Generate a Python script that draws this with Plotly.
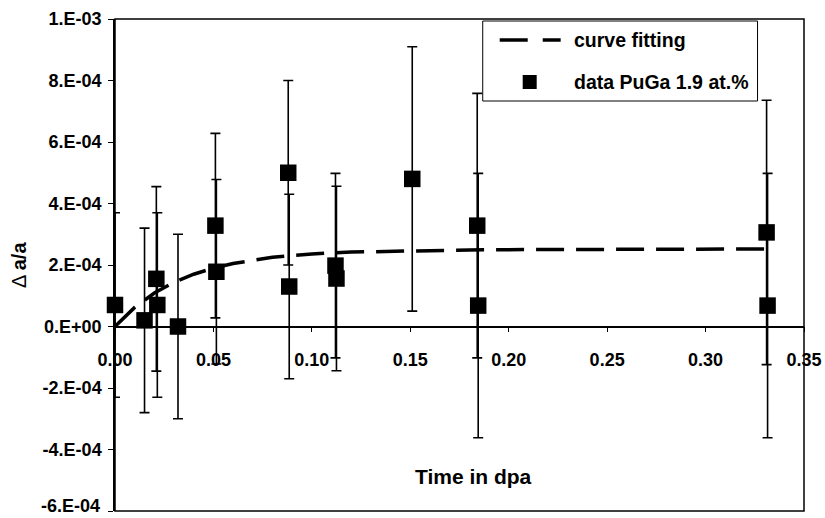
import plotly.graph_objects as go

# ---- data ----
time_dpa = [0.0, 0.015, 0.021, 0.0215, 0.032, 0.051, 0.0515, 0.088, 0.0885,
            0.112, 0.1125, 0.151, 0.184, 0.1845, 0.331, 0.3315]
delta_a = [7.0e-5, 2.0e-5, 1.55e-4, 7.0e-5, 0.0, 3.28e-4, 1.78e-4, 5.0e-4, 1.3e-4,
           1.98e-4, 1.56e-4, 4.8e-4, 3.28e-4, 6.8e-5, 3.06e-4, 6.8e-5]
delta_err = [3.0e-4, 3.0e-4, 3.0e-4, 3.0e-4, 3.0e-4, 3.0e-4, 3.0e-4, 3.0e-4, 3.0e-4,
             3.0e-4, 3.0e-4, 4.3e-4, 4.3e-4, 4.3e-4, 4.3e-4, 4.3e-4]

fit_x = [0.0, 0.01, 0.02, 0.03, 0.04, 0.05, 0.06, 0.07, 0.08, 0.09, 0.10,
         0.12, 0.14, 0.16, 0.18, 0.20, 0.25, 0.30, 0.331]
fit_y = [0.0, 6.2e-5, 1.09e-4, 1.44e-4, 1.70e-4, 1.90e-4, 2.05e-4, 2.16e-4, 2.25e-4,
         2.31e-4, 2.36e-4, 2.42e-4, 2.45e-4, 2.47e-4, 2.49e-4, 2.50e-4, 2.51e-4,
         2.52e-4, 2.52e-4]

x_ticks = [0.0, 0.05, 0.10, 0.15, 0.20, 0.25, 0.30, 0.35]
x_tick_text = ["0.00", "0.05", "0.10", "0.15", "0.20", "0.25", "0.30", "0.35"]
y_ticks = [-6e-4, -4e-4, -2e-4, 0.0, 2e-4, 4e-4, 6e-4, 8e-4, 1e-3]
y_tick_text = ["-6.E-04", "-4.E-04", "-2.E-04", "0.E+00", "2.E-04", "4.E-04",
               "6.E-04", "8.E-04", "1.E-03"]

legend_names = ["curve fitting", "data PuGa 1.9 at.%"]
x_title = "Time in dpa"
y_title = "\u0394 <b>a/a</b>"

FONT = "Liberation Sans, Arial, Helvetica, sans-serif"

# ---- figure geometry (pixels) ----
W, H = 825, 518
L, R, T, B = 115, 20.5, 19, 7
pw, ph = W - L - R, H - T - B


def px2paper_x(px):
    return (px - L) / pw


def px2paper_y(py):
    return (H - B - py) / ph


fig = go.Figure()

fig.add_trace(go.Scatter(
    x=fit_x, y=fit_y, mode="lines", name=legend_names[0],
    line=dict(color="black", width=3.5, dash="28px,12px"),
    showlegend=False, hoverinfo="skip", cliponaxis=False))

fig.add_trace(go.Scatter(
    x=time_dpa, y=delta_a, mode="markers", name=legend_names[1],
    marker=dict(symbol="square", size=16.5, color="black"),
    error_y=dict(type="data", array=delta_err, visible=True,
                 color="black", thickness=1.6, width=5),
    showlegend=False, cliponaxis=False))

y0_paper = (0 - (-6e-4)) / (1e-3 - (-6e-4))

# the lowest label sits on the figure edge: draw it as a text placed just inside
y_label_text = [t if v != y_ticks[0] else "" for v, t in zip(y_ticks, y_tick_text)]

fig.update_layout(
    width=W, height=H,
    margin=dict(l=L, r=R, t=T, b=B, pad=0, autoexpand=False),
    paper_bgcolor="white", plot_bgcolor="white",
    font=dict(family=FONT, color="black"),
    showlegend=False,
    xaxis=dict(range=[0, 0.35], tickvals=x_ticks, ticktext=x_tick_text,
               anchor="free", position=y0_paper, automargin=False,
               showline=True, linecolor="black", linewidth=1.5,
               ticks="outside", ticklen=5, tickwidth=1.2, tickcolor="black",
               showgrid=False, zeroline=False, ticklabeloverflow="allow",
               tickfont=dict(family=FONT, size=18, weight="bold", color="black"),
               ticklabelstandoff=12),
    yaxis=dict(range=[-6e-4, 1e-3], tickvals=y_ticks, ticktext=y_label_text,
               automargin=False,
               showline=True, linecolor="black", linewidth=1.5,
               ticks="outside", ticklen=5, tickwidth=1.2, tickcolor="black",
               showgrid=False, zeroline=False, ticklabeloverflow="allow",
               tickfont=dict(family=FONT, size=18, weight="bold", color="black"),
               ticklabelstandoff=3),
)

fig.add_annotation(xref="paper", yref="paper", x=px2paper_x(101), y=px2paper_y(517),
                   text="<b>" + y_tick_text[0] + "</b>", showarrow=False,
                   xanchor="right", yanchor="bottom", borderpad=0,
                   font=dict(family=FONT, size=18, color="black"))

# plot frame
fig.add_shape(type="rect", xref="paper", yref="paper", x0=0, x1=1, y0=0, y1=1,
              line=dict(color="black", width=1.5), layer="above")

# custom legend
fig.add_shape(type="rect", xref="paper", yref="paper",
              x0=px2paper_x(483), x1=px2paper_x(758),
              y0=px2paper_y(101), y1=px2paper_y(21),
              line=dict(color="black", width=1), fillcolor="white", layer="above")
fig.add_shape(type="line", xref="paper", yref="paper",
              x0=px2paper_x(500), x1=px2paper_x(561),
              y0=px2paper_y(40), y1=px2paper_y(40),
              line=dict(color="black", width=3.5, dash="28px,15px"), layer="above")
fig.add_shape(type="rect", xref="paper", yref="paper",
              xsizemode="pixel", ysizemode="pixel",
              xanchor=px2paper_x(530), yanchor=px2paper_y(82),
              x0=-7, x1=7, y0=-7, y1=7,
              line=dict(width=0), fillcolor="black", layer="above")
fig.add_annotation(xref="paper", yref="paper", x=px2paper_x(572), y=px2paper_y(40),
                   text="<b>" + legend_names[0] + "</b>", showarrow=False,
                   xanchor="left", yanchor="middle",
                   font=dict(family=FONT, size=19.5, color="black"))
fig.add_annotation(xref="paper", yref="paper", x=px2paper_x(572), y=px2paper_y(82),
                   text="<b>" + legend_names[1] + "</b>", showarrow=False,
                   xanchor="left", yanchor="middle",
                   font=dict(family=FONT, size=19.5, color="black"))

# axis titles
fig.add_annotation(xref="paper", yref="paper", x=px2paper_x(474), y=px2paper_y(476),
                   text="<b>" + x_title + "</b>", showarrow=False,
                   xanchor="center", yanchor="middle",
                   font=dict(family=FONT, size=21, color="black"))
fig.add_annotation(xref="paper", yref="paper", x=px2paper_x(19), y=px2paper_y(265),
                   text=y_title, showarrow=False, textangle=-90,
                   xanchor="center", yanchor="middle",
                   font=dict(family=FONT, size=20, color="black"))

fig.write_html("out.html")
